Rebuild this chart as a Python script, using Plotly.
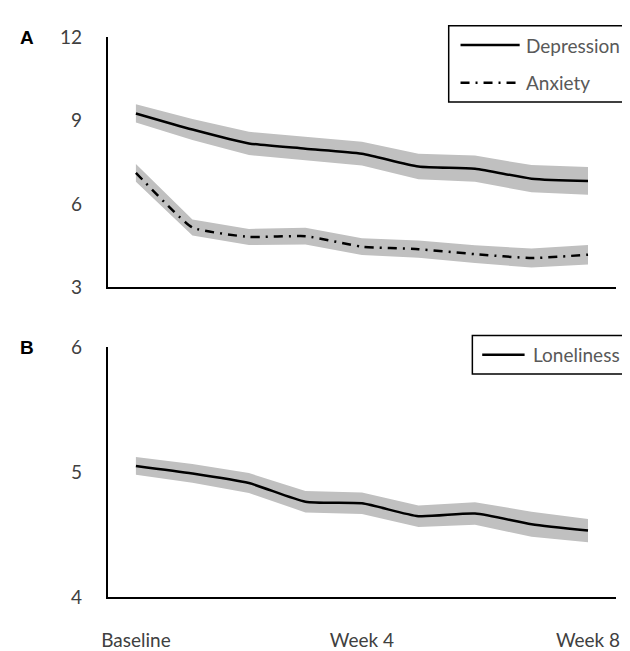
import plotly.graph_objects as go

weeks = ["Baseline", "Week 1", "Week 2", "Week 3", "Week 4", "Week 5", "Week 6", "Week 7", "Week 8"]
tick_labels = ["Baseline", "Week 4", "Week 8"]

depression = [9.26, 8.68, 8.18, 7.99, 7.81, 7.35, 7.27, 6.91, 6.83]
depression_ci = [0.33, 0.38, 0.42, 0.43, 0.43, 0.46, 0.47, 0.49, 0.50]

anxiety = [7.12, 5.15, 4.81, 4.84, 4.46, 4.37, 4.19, 4.05, 4.17]
anxiety_ci = [0.32, 0.29, 0.29, 0.30, 0.30, 0.31, 0.32, 0.34, 0.35]

loneliness = [5.048, 4.988, 4.911, 4.762, 4.749, 4.646, 4.667, 4.582, 4.531]
loneliness_ci = [0.071, 0.075, 0.080, 0.086, 0.086, 0.086, 0.090, 0.100, 0.093]

BAND = "#c0c0c0"
FONT = "Lato, 'Open Sans', sans-serif"
TXT = "#404040"
LEG_TXT = "#595959"
ANX_DASH = "9px,6px,2px,6px"

fig = go.Figure()


def add_band(vals, ci, xa, ya):
    upper = [v + c for v, c in zip(vals, ci)]
    lower = [v - c for v, c in zip(vals, ci)]
    fig.add_trace(go.Scatter(x=weeks, y=upper, mode="lines", line=dict(width=0, color=BAND),
                             showlegend=False, hoverinfo="skip", xaxis=xa, yaxis=ya))
    fig.add_trace(go.Scatter(x=weeks, y=lower, mode="lines", line=dict(width=0, color=BAND),
                             fill="tonexty", fillcolor=BAND, showlegend=False, hoverinfo="skip",
                             xaxis=xa, yaxis=ya))


add_band(depression, depression_ci, "x", "y")
add_band(anxiety, anxiety_ci, "x", "y")
add_band(loneliness, loneliness_ci, "x2", "y2")

fig.add_trace(go.Scatter(x=weeks, y=depression, mode="lines", name="Depression", showlegend=False,
                         line=dict(color="black", width=2.5, shape="spline", smoothing=0.6),
                         xaxis="x", yaxis="y"))
fig.add_trace(go.Scatter(x=weeks, y=anxiety, mode="lines", name="Anxiety", showlegend=False,
                         line=dict(color="black", width=2.5, shape="spline", smoothing=0.4,
                                   dash=ANX_DASH),
                         xaxis="x", yaxis="y"))
fig.add_trace(go.Scatter(x=weeks, y=loneliness, mode="lines", name="Loneliness", showlegend=False,
                         line=dict(color="black", width=2.5, shape="spline", smoothing=0.6),
                         xaxis="x2", yaxis="y2"))

W, H = 630, 651
xd = [95 / W, 611 / W]
axis_common = dict(showgrid=False, zeroline=False, showline=True, linecolor="black", linewidth=1.5,
                   ticks="", tickfont=dict(family=FONT, size=19, color=TXT))


def px(x):
    return x / W


def py(y):
    return 1 - y / H


shapes = []
annotations = []


def legend_box(x0, y0, x1, y1):
    shapes.append(dict(type="rect", xref="paper", yref="paper", x0=px(x0), x1=px(x1),
                       y0=py(y1), y1=py(y0), line=dict(color="black", width=1.5),
                       fillcolor="white", layer="above"))


def legend_item(lx0, lx1, y, tx, text, dash="solid"):
    shapes.append(dict(type="line", xref="paper", yref="paper", x0=px(lx0), x1=px(lx1),
                       y0=py(y), y1=py(y), line=dict(color="black", width=2.5, dash=dash),
                       layer="above"))
    annotations.append(dict(text=text, x=px(tx), y=py(y), xref="paper", yref="paper",
                            xanchor="left", yanchor="middle", showarrow=False,
                            font=dict(family=FONT, size=19, color=LEG_TXT)))


legend_box(441, 6, 625, 85)
legend_item(453, 513, 26, 517, "Depression")
legend_item(453, 513, 65, 517, "Anxiety", ANX_DASH)
legend_box(465, 327, 625, 367)
legend_item(475, 518, 347, 524, "Loneliness")

for lab, y in (("A", 18), ("B", 339)):
    annotations.append(dict(text="<b>%s</b>" % lab, x=px(4), y=py(y), xref="paper", yref="paper",
                            xanchor="left", yanchor="middle", showarrow=False,
                            font=dict(family="Liberation Sans, Arial", size=19, color="black")))

fig.update_layout(
    width=W, height=H,
    margin=dict(l=0, r=0, t=0, b=0),
    plot_bgcolor="white", paper_bgcolor="white",
    showlegend=False,
    xaxis=dict(domain=xd, anchor="y", type="category", range=[-0.5, 8.5],
               showticklabels=False, **axis_common),
    yaxis=dict(domain=[py(277), py(18)], anchor="x", range=[3, 12],
               tickvals=[3, 6, 9, 12], ticklabelstandoff=20, **axis_common),
    xaxis2=dict(domain=xd, anchor="y2", type="category", range=[-0.5, 8.5],
                tickvals=tick_labels, ticklabelstandoff=26, **axis_common),
    yaxis2=dict(domain=[py(598), py(339)], anchor="x2", range=[4, 6],
                tickvals=[4, 5, 6], ticklabelstandoff=20, **axis_common),
    shapes=shapes,
    annotations=annotations,
)

fig.write_html("out.html")
